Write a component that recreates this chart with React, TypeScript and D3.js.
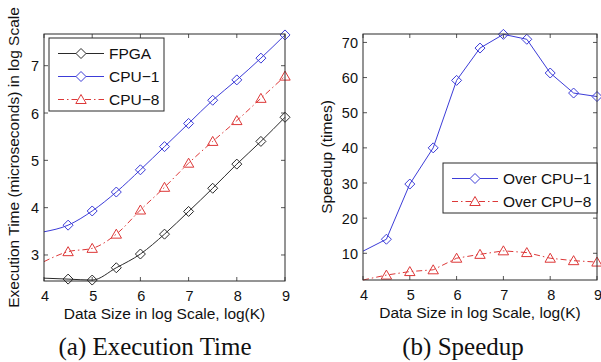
import React from 'react';
import * as d3 from 'd3';

const xValues = [4, 4.5, 5, 5.5, 6, 6.5, 7, 7.5, 8, 8.5, 9];
const fpgaTime = [2.51, 2.49, 2.47, 2.73, 3.02, 3.44, 3.92, 4.41, 4.92, 5.4, 5.91];
const cpu1Time = [3.49, 3.63, 3.93, 4.33, 4.8, 5.29, 5.78, 6.27, 6.7, 7.16, 7.65];
const cpu8Time = [2.86, 3.07, 3.14, 3.44, 3.95, 4.43, 4.94, 5.4, 5.84, 6.31, 6.78];
const speedupCpu1 = [10.6, 14.0, 29.7, 40.0, 59.2, 68.4, 72.3, 70.9, 61.3, 55.6, 54.6];
const speedupCpu8 = [2.4, 3.8, 4.8, 5.3, 8.6, 9.7, 10.7, 10.2, 8.6, 7.9, 7.5];
const xTicks = [4, 5, 6, 7, 8, 9];
const timeTicks = [3, 4, 5, 6, 7];
const speedTicks = [10, 20, 30, 40, 50, 60, 70];

const BLUE = '#3c3cd8';
const RED = '#dd3838';
const BLACK = '#2a2a2a';
const SANS = '"Liberation Sans", Arial, Helvetica, sans-serif';
const SERIF = '"Liberation Serif", "Times New Roman", serif';
const DASHDOT = '6 3 1.5 3';

type Series = {
  name: string;
  values: number[];
  color: string;
  dash?: string;
  marker: 'diamond' | 'triangle';
};

function markerPath(kind: 'diamond' | 'triangle', x: number, y: number) {
  if (kind === 'diamond') {
    const r = 5;
    return `M${x},${y - r}L${x + r},${y}L${x},${y + r}L${x - r},${y}Z`;
  }
  const w = 5.2;
  return `M${x},${y - 5}L${x + w},${y + 4}L${x - w},${y + 4}Z`;
}

type PanelProps = {
  x0: number; x1: number; y0: number; y1: number;
  yDomain: [number, number];
  yTicks: number[];
  series: Series[];
  curve: d3.CurveFactory;
  legend: { x: number; y: number; w: number; h: number; rowH: number };
  yLabel: string;
  yLabelX: number;
  caption: string;
  captionX: number;
};

function Panel(p: PanelProps) {
  const xs = d3.scaleLinear().domain([4, 9]).range([p.x0, p.x1]);
  const ys = d3.scaleLinear().domain(p.yDomain).range([p.y1, p.y0]);
  const line = d3
    .line<number>()
    .x((_, i) => xs(xValues[i]))
    .y((d) => ys(d))
    .curve(p.curve);
  const tk = 4;
  const midY = (p.y0 + p.y1) / 2;
  const midX = (p.x0 + p.x1) / 2;
  return (
    <g>
      {xTicks.map((t) => (
        <g key={'x' + t}>
          <line x1={xs(t)} x2={xs(t)} y1={p.y1} y2={p.y1 - tk} stroke={BLACK} strokeWidth={0.8} />
          <line x1={xs(t)} x2={xs(t)} y1={p.y0} y2={p.y0 + tk} stroke={BLACK} strokeWidth={0.8} />
          <text x={xs(t) + 1} y={p.y1 + 20} fontSize={14.5} fontFamily={SANS} textAnchor="middle" fill="#111">
            {t}
          </text>
        </g>
      ))}
      {p.yTicks.map((t) => (
        <g key={'y' + t}>
          <line x1={p.x0} x2={p.x0 + tk} y1={ys(t)} y2={ys(t)} stroke={BLACK} strokeWidth={0.8} />
          <line x1={p.x1} x2={p.x1 - tk} y1={ys(t)} y2={ys(t)} stroke={BLACK} strokeWidth={0.8} />
          <text x={p.x0 - 5} y={ys(t) + 5.5} fontSize={14.5} fontFamily={SANS} textAnchor="end" fill="#111">
            {t}
          </text>
        </g>
      ))}
      {p.series.map((s) => (
        <g key={s.name}>
          <path d={line(s.values) || ''} fill="none" stroke={s.color} strokeWidth={1} strokeDasharray={s.dash} />
          {s.values.map((v, i) =>
            i === 0 ? null : (
              <path key={i} d={markerPath(s.marker, xs(xValues[i]), ys(v))} fill="none" stroke={s.color} strokeWidth={1} />
            )
          )}
        </g>
      ))}
      <rect x={p.x0} y={p.y0} width={p.x1 - p.x0} height={p.y1 - p.y0} fill="none" stroke={BLACK} strokeWidth={1} />
      <rect x={p.legend.x} y={p.legend.y} width={p.legend.w} height={p.legend.h} fill="#fff" stroke={BLACK} strokeWidth={1} />
      {p.series.map((s, i) => {
        const cy = p.legend.y + 15.5 + i * p.legend.rowH;
        const lx0 = p.legend.x + 9;
        const lx1 = lx0 + 46;
        const mx = (lx0 + lx1) / 2;
        return (
          <g key={'lg' + s.name}>
            <line x1={lx0} x2={lx1} y1={cy} y2={cy} stroke={s.color} strokeWidth={1} strokeDasharray={s.dash} />
            <path d={markerPath(s.marker, mx, cy)} fill="#fff" stroke={s.color} strokeWidth={1} />
            <text x={lx1 + 5} y={cy + 5.5} fontSize={15.5} fontFamily={SANS} fill="#111">
              {s.name}
            </text>
          </g>
        );
      })}
      <text x={midX} y={p.y1 + 38} fontSize={15.5} fontFamily={SANS} textAnchor="middle" fill="#111">
        Data Size in log Scale, log(K)
      </text>
      <text
        transform={`translate(${p.yLabelX},${midY}) rotate(-90)`}
        fontSize={15.5}
        fontFamily={SANS}
        textAnchor="middle"
        fill="#111"
      >
        {p.yLabel}
      </text>
      <text x={p.captionX} y={355} fontSize={25} fontFamily={SERIF} textAnchor="middle" fill="#111">
        {p.caption}
      </text>
    </g>
  );
}

export default function App() {
  const left: Series[] = [
    { name: 'FPGA', values: fpgaTime, color: BLACK, marker: 'diamond' },
    { name: 'CPU\u22121', values: cpu1Time, color: BLUE, marker: 'diamond' },
    { name: 'CPU\u22128', values: cpu8Time, color: RED, dash: DASHDOT, marker: 'triangle' },
  ];
  const right: Series[] = [
    { name: 'Over CPU\u22121', values: speedupCpu1, color: BLUE, marker: 'diamond' },
    { name: 'Over CPU\u22128', values: speedupCpu8, color: RED, dash: DASHDOT, marker: 'triangle' },
  ];
  return (
    <svg width={601} height={362} style={{ position: 'absolute', left: 0, top: 0, background: '#fff' }}>
      <rect x={0} y={0} width={601} height={362} fill="#fff" />
      <Panel
        x0={44}
        x1={285}
        y0={34}
        y1={281}
        yDomain={[2.45, 7.67]}
        yTicks={timeTicks}
        series={left}
        curve={d3.curveMonotoneX}
        legend={{ x: 49, y: 38, w: 115, h: 73, rowH: 23 }}
        yLabel="Execution Time (microseconds) in log Scale"
        yLabelX={19}
        caption="(a) Execution Time"
        captionX={155}
      />
      <Panel
        x0={363}
        x1={597}
        y0={34}
        y1={280}
        yDomain={[2.4, 72.4]}
        yTicks={speedTicks}
        series={right}
        curve={d3.curveLinear}
        legend={{ x: 443, y: 163, w: 154, h: 50, rowH: 23 }}
        yLabel="Speedup (times)"
        yLabelX={332}
        caption="(b) Speedup"
        captionX={463}
      />
    </svg>
  );
}
